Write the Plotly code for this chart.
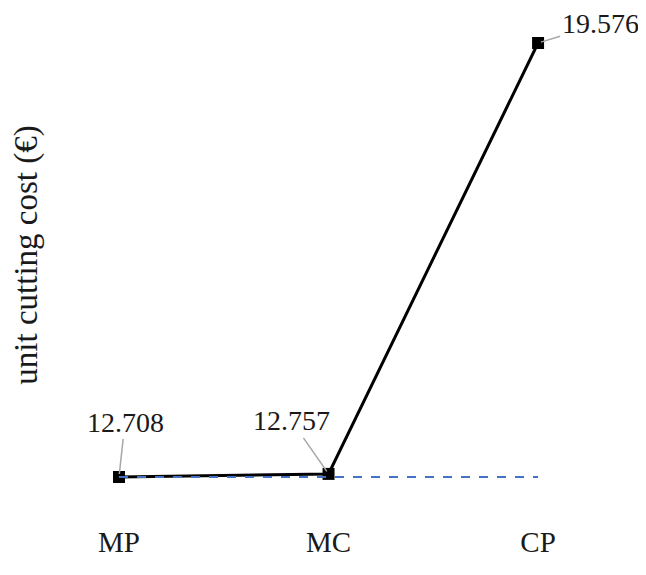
import plotly.graph_objects as go

categories = ["MP", "MC", "CP"]
unit_cost = [12.708, 12.757, 19.576]
label_text = ["12.708", "12.757", "19.576"]
baseline = [unit_cost[0]] * len(categories)

xpos = list(range(len(categories)))
FONT = "Liberation Serif, Times New Roman, serif"

fig = go.Figure()
fig.add_trace(go.Scatter(
    x=xpos, y=unit_cost, mode="lines+markers",
    line=dict(color="black", width=3),
    marker=dict(symbol="square", size=12, color="black"),
    showlegend=False, hoverinfo="skip"))
fig.add_trace(go.Scatter(
    x=xpos, y=baseline, mode="lines",
    line=dict(color="#4472C4", width=2, dash="dash"),
    showlegend=False, hoverinfo="skip"))

offsets = [(6, -55), (-37, -53), (62, -19)]
for i, (ax, ay) in enumerate(offsets):
    fig.add_annotation(x=xpos[i], y=unit_cost[i], text=label_text[i],
                       showarrow=True, arrowhead=0, arrowwidth=1.5,
                       arrowcolor="#a6a6a6", ax=ax, ay=ay, standoff=3,
                       font=dict(family=FONT, size=28, color="#1a1a1a"))

fig.update_layout(
    width=638, height=567,
    margin=dict(l=52, r=26, t=2, b=75),
    paper_bgcolor="white", plot_bgcolor="white",
    font=dict(family=FONT, color="#1a1a1a"),
    xaxis=dict(range=[-0.2816, 2.391], tickvals=xpos, ticktext=categories,
               showgrid=False, zeroline=False, showline=False, automargin=False,
               ticks="outside", ticklen=16, tickcolor="rgba(0,0,0,0)",
               tickfont=dict(family=FONT, size=29, color="#1a1a1a")),
    yaxis=dict(range=[12.344, 20.098], showgrid=False, zeroline=False,
               showline=False, showticklabels=False, ticks="", automargin=False,
               title=dict(text="unit cutting cost (€)", standoff=19,
                          font=dict(family=FONT, size=33, color="#1a1a1a"))),
)
fig.write_html("out.html")
